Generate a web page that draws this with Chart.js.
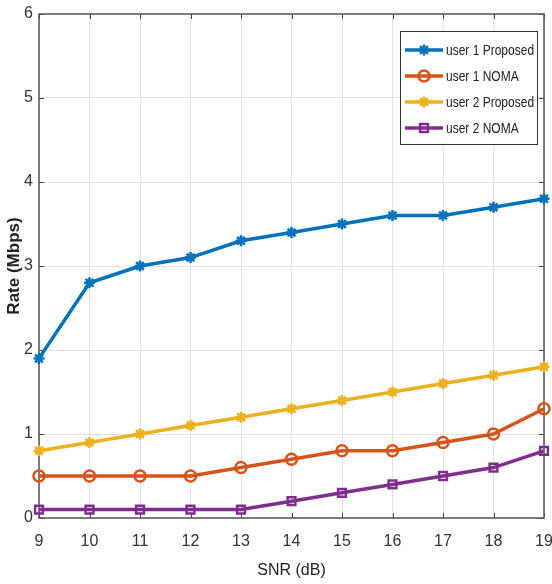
<!DOCTYPE html>
<html>
<head>
<meta charset="utf-8">
<script src="https://cdn.jsdelivr.net/npm/chart.js@4.4.1/dist/chart.umd.min.js"></script>
<style>
  html, body { margin: 0; padding: 0; background: #fff; }
  #wrap { width: 552px; height: 584px; }
</style>
</head>
<body>
<div id="wrap"><canvas id="rateChart" width="552" height="584"></canvas></div>
<script>
// SNR values and rates
var snr = [9, 10, 11, 12, 13, 14, 15, 16, 17, 18, 19];
var user1Proposed = [1.9, 2.8, 3.0, 3.1, 3.3, 3.4, 3.5, 3.6, 3.6, 3.7, 3.8];
var user1Noma = [0.5, 0.5, 0.5, 0.5, 0.6, 0.7, 0.8, 0.8, 0.9, 1.0, 1.3];
var user2Proposed = [0.8, 0.9, 1.0, 1.1, 1.2, 1.3, 1.4, 1.5, 1.6, 1.7, 1.8];
var user2Noma = [0.1, 0.1, 0.1, 0.1, 0.1, 0.2, 0.3, 0.4, 0.5, 0.6, 0.8];
var seriesNames = ['user 1 Proposed', 'user 1 NOMA', 'user 2 Proposed', 'user 2 NOMA'];

var FONT = "'Liberation Sans', Arial, sans-serif";

function pts(vals) {
  return vals.map(function (v, i) { return { x: snr[i], y: v }; });
}

function makeSet(label, vals, color, style, fill) {
  return {
    label: label,
    data: pts(vals),
    borderColor: color,
    backgroundColor: fill ? color : '#ffffff',
    pointBorderColor: color,
    pointBackgroundColor: fill ? color : 'rgba(255,255,255,0)',
    borderWidth: 3.5,
    pointStyle: style,
    pointRadius: 5.5,
    pointBorderWidth: 2.5,
    tension: 0,
    clip: false
  };
}

// box around plot + inward ticks (MATLAB look)
var boxPlugin = {
  id: 'boxPlugin',
  beforeDatasetsDraw: function (chart) {
    var ctx = chart.ctx, a = chart.chartArea;
    var xs = chart.scales.x, ys = chart.scales.y;
    ctx.save();
    ctx.strokeStyle = '#444';
    ctx.lineWidth = 1;
    ctx.beginPath();
    xs.ticks.forEach(function (t) {
      var px = Math.round(xs.getPixelForValue(t.value)) + 0.5;
      ctx.moveTo(px, a.bottom); ctx.lineTo(px, a.bottom - 5);
      ctx.moveTo(px, a.top); ctx.lineTo(px, a.top + 5);
    });
    ys.ticks.forEach(function (t) {
      var py = Math.round(ys.getPixelForValue(t.value)) + 0.5;
      ctx.moveTo(a.left, py); ctx.lineTo(a.left + 5, py);
      ctx.moveTo(a.right, py); ctx.lineTo(a.right - 5, py);
    });
    ctx.stroke();
    ctx.strokeStyle = '#555';
    ctx.lineWidth = 1.5;
    ctx.strokeRect(a.left, a.top, a.right - a.left, a.bottom - a.top);
    ctx.restore();
  }
};

// legend box in the upper right corner
var legendPlugin = {
  id: 'legendBox',
  afterDraw: function (chart) {
    var ctx = chart.ctx;
    var x0 = 400, y0 = 31, w = 137, h = 113;
    ctx.save();
    ctx.fillStyle = '#fff';
    ctx.fillRect(x0, y0, w, h);
    ctx.strokeStyle = '#333';
    ctx.lineWidth = 1;
    ctx.strokeRect(x0 + 0.5, y0 + 0.5, w, h);
    ctx.textBaseline = 'middle';
    chart.data.datasets.forEach(function (ds, i) {
      var cy = y0 + 19 + i * 26;
      ctx.strokeStyle = ds.borderColor;
      ctx.lineWidth = 3.5;
      ctx.beginPath();
      ctx.moveTo(x0 + 5, cy); ctx.lineTo(x0 + 43, cy);
      ctx.stroke();
      ctx.fillStyle = ds.pointBackgroundColor;
      ctx.strokeStyle = ds.pointBorderColor;
      ctx.lineWidth = 2.5;
      Chart.helpers.drawPoint(ctx, { pointStyle: ds.pointStyle, radius: 5.5, borderWidth: 2.5, rotation: 0 }, x0 + 24, cy);
      // narrow text, like the original
      ctx.save();
      ctx.translate(x0 + 46, cy + 1);
      ctx.scale(0.8, 1);
      ctx.font = '15px ' + FONT;
      ctx.fillStyle = '#222';
      ctx.fillText(ds.label, 0, 0);
      ctx.restore();
    });
    ctx.restore();
  }
};

var rateChart = new Chart(document.getElementById('rateChart'), {
  type: 'line',
  data: {
    datasets: [
      makeSet(seriesNames[0], user1Proposed, '#0072BD', 'star', true),
      makeSet(seriesNames[1], user1Noma, '#D95319', 'circle', false),
      makeSet(seriesNames[2], user2Proposed, '#EDB120', 'star', true),
      makeSet(seriesNames[3], user2Noma, '#7E2F8E', 'rect', false)
    ]
  },
  options: {
    responsive: false,
    animation: false,
    layout: { padding: { top: 14, right: 6, left: 0, bottom: 0 } },
    plugins: {
      legend: { display: false },
      tooltip: { enabled: false }
    },
    scales: {
      x: {
        type: 'linear',
        min: 9,
        max: 19,
        ticks: {
          stepSize: 1,
          color: '#333',
          padding: 14,
          font: { family: FONT, size: 16 }
        },
        grid: { color: '#e2e2e2', drawTicks: false },
        border: { display: false },
        title: {
          display: true,
          text: 'SNR (dB)',
          color: '#222',
          padding: { top: 4 },
          font: { family: FONT, size: 16 }
        },
        afterFit: function (s) { s.height = 66; s.paddingRight = 0; s.paddingLeft = 0; }
      },
      y: {
        min: 0,
        max: 6,
        ticks: {
          stepSize: 1,
          color: '#333',
          padding: 6,
          font: { family: FONT, size: 16 }
        },
        grid: { color: '#e2e2e2', drawTicks: false },
        border: { display: false },
        title: {
          display: true,
          text: 'Rate (Mbps)',
          color: '#222',
          padding: { bottom: 1 },
          font: { family: FONT, size: 17, weight: 'bold' }
        },
        afterFit: function (s) { s.width = 39; s.paddingTop = 0; s.paddingBottom = 0; }
      }
    }
  },
  plugins: [boxPlugin, legendPlugin]
});
</script>
</body>
</html>
